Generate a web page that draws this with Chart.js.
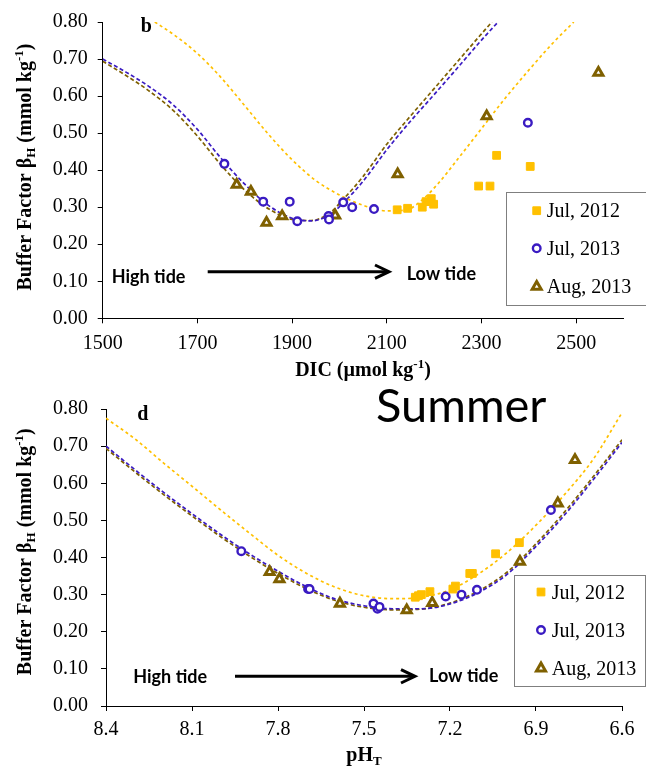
<!DOCTYPE html>
<html>
<head>
<meta charset="utf-8">
<title>Buffer factor vs DIC and pH</title>
<script src="https://cdn.jsdelivr.net/npm/chart.js@4.4.1/dist/chart.umd.min.js"></script>
<style>
  html, body { margin: 0; padding: 0; background: #fff; }
  #wrap { position: relative; width: 646px; height: 768px; }
  #wrap canvas { position: absolute; left: 0; }
  #dicChart { top: 0; }
  #phChart { top: 384px; }
</style>
</head>
<body>
<div id="wrap">
  <canvas id="dicChart" width="646" height="384"></canvas>
  <canvas id="phChart" width="646" height="384"></canvas>
</div>
<script>
// Survey series
const seriesNames = ['Jul, 2012', 'Jul, 2013', 'Aug, 2013'];

const dic2012  = [2122, 2144, 2175, 2183, 2194, 2199, 2294, 2318, 2332, 2403];
const ph2012   = [7.321, 7.310, 7.300, 7.190, 7.181, 7.270, 7.131, 7.122, 6.958, 7.041];
const beta2012 = [0.293, 0.297, 0.300, 0.315, 0.323, 0.308, 0.357, 0.357, 0.440, 0.410];

const dic2013  = [1757, 1839, 1895, 1911, 1977, 1978, 2008, 2027, 2073, 2398];
const ph2013   = [7.928, 7.695, 7.690, 7.453, 7.467, 7.446, 7.106, 7.160, 7.215, 6.848];
const beta2013 = [0.417, 0.315, 0.315, 0.262, 0.276, 0.267, 0.313, 0.300, 0.295, 0.528];

const dicAug2013  = [1783, 1813, 1846, 1879, 1991, 2123, 2311, 2547];
const phAug2013   = [7.829, 7.795, 7.351, 7.584, 7.262, 6.956, 6.824, 6.764];
const betaAug2013 = [0.361, 0.342, 0.258, 0.276, 0.278, 0.389, 0.546, 0.663];

// Modelled buffer factor curves against DIC
const curveDic2012     = [1610, 1650, 1700, 1750, 1800, 1850, 1900, 1950, 2000, 2050, 2100, 2140, 2175, 2210, 2250, 2300, 2350, 2400, 2450, 2495];
const curveBetaDic2012 = [0.800, 0.766, 0.715, 0.650, 0.574, 0.497, 0.428, 0.372, 0.333, 0.305, 0.290, 0.292, 0.320, 0.366, 0.430, 0.512, 0.594, 0.670, 0.742, 0.800];
const curveDic2013     = [1500, 1550, 1600, 1650, 1700, 1750, 1800, 1850, 1900, 1940, 1980, 2010, 2050, 2100, 2150, 2200, 2250, 2300, 2335];
const curveBetaDic2013 = [0.700, 0.664, 0.624, 0.575, 0.510, 0.432, 0.362, 0.305, 0.270, 0.263, 0.280, 0.314, 0.370, 0.455, 0.532, 0.604, 0.677, 0.751, 0.800];
const curveDicAug2013     = [1500, 1550, 1600, 1650, 1700, 1750, 1800, 1850, 1900, 1940, 1980, 2010, 2050, 2100, 2150, 2200, 2250, 2300, 2322];
const curveBetaDicAug2013 = [0.694, 0.655, 0.612, 0.560, 0.492, 0.414, 0.346, 0.296, 0.267, 0.264, 0.285, 0.324, 0.383, 0.470, 0.546, 0.620, 0.694, 0.768, 0.800];

// Modelled buffer factor curves against pH
const curvePh = [8.4, 8.3, 8.2, 8.1, 8.0, 7.9, 7.8, 7.7, 7.6, 7.5, 7.4, 7.3, 7.2, 7.1, 7.0, 6.9, 6.8, 6.7, 6.6];
const curveBetaPh2012    = [0.775, 0.720, 0.655, 0.592, 0.528, 0.466, 0.406, 0.357, 0.320, 0.297, 0.289, 0.293, 0.313, 0.356, 0.414, 0.487, 0.570, 0.665, 0.790];
const curveBetaPh2013    = [0.700, 0.637, 0.576, 0.518, 0.462, 0.410, 0.363, 0.321, 0.288, 0.270, 0.262, 0.262, 0.275, 0.306, 0.355, 0.430, 0.515, 0.610, 0.710];
const curveBetaPhAug2013 = [0.694, 0.631, 0.570, 0.512, 0.456, 0.404, 0.357, 0.316, 0.284, 0.266, 0.259, 0.261, 0.277, 0.310, 0.361, 0.437, 0.523, 0.618, 0.717];

// Axis ticks
const dicTicks  = [1500, 1700, 1900, 2100, 2300, 2500];
const phTicks   = [8.4, 8.1, 7.8, 7.5, 7.2, 6.9, 6.6];
const betaTicks = [0, 0.1, 0.2, 0.3, 0.4, 0.5, 0.6, 0.7, 0.8];

const SERIF = '"Liberation Serif", "Times New Roman", serif';
const SANS = 'Lato, "Open Sans", sans-serif';

Chart.defaults.font.family = SERIF;
Chart.defaults.font.size = 20;
Chart.defaults.color = '#000';

const markerStyles = [
  { pointStyle: 'rect', radius: 5.5, borderWidth: 1, stroke: '#FFC000', fill: '#FFC000', dash: [3, 3], lineColor: '#FFC000' },
  { pointStyle: 'circle', radius: 3.8, borderWidth: 2.4, stroke: '#3A1BC2', fill: '#ffffff', dash: [4, 2.5], lineColor: '#3A1BC2' },
  { pointStyle: 'triangle', radius: 5.2, borderWidth: 3, stroke: '#7F6000', fill: '#ffffff', dash: [4, 2.5], lineColor: '#7F6000' }
];

function toPoints(xs, ys) {
  return xs.map((x, i) => ({ x: x, y: ys[i] }));
}

function pointSet(i, xs, ys) {
  const s = markerStyles[i];
  return {
    label: seriesNames[i],
    data: toPoints(xs, ys),
    showLine: false,
    pointStyle: s.pointStyle,
    pointRadius: s.radius,
    pointHoverRadius: s.radius,
    pointBorderWidth: s.borderWidth,
    pointBorderColor: s.stroke,
    pointBackgroundColor: s.fill,
    order: 0
  };
}

function curveSet(i, xs, ys) {
  const s = markerStyles[i];
  return {
    label: seriesNames[i] + ' model',
    data: toPoints(xs, ys),
    showLine: true,
    pointRadius: 0,
    borderColor: s.lineColor,
    borderWidth: 1.7,
    borderDash: s.dash,
    cubicInterpolationMode: 'monotone',
    order: 1
  };
}

// text with sub/superscripts, centred on x, sitting on baseline y
function drawRuns(ctx, runs, x, y, size) {
  const parts = runs.map(r => {
    const s = (r.sub || r.sup) ? size * 0.65 : size;
    ctx.font = 'bold ' + s + 'px ' + SERIF;
    return { t: r.t, sub: r.sub, sup: r.sup, s: s, w: ctx.measureText(r.t).width };
  });
  const total = parts.reduce((a, p) => a + p.w, 0);
  let cx = x - total / 2;
  ctx.textAlign = 'left';
  ctx.textBaseline = 'alphabetic';
  parts.forEach(p => {
    ctx.font = 'bold ' + p.s + 'px ' + SERIF;
    const dy = p.sub ? size * 0.22 : p.sup ? -size * 0.4 : 0;
    ctx.fillText(p.t, cx, y + dy);
    cx += p.w;
  });
}

const panelExtras = {
  id: 'panelExtras',
  afterDraw(chart, args, o) {
    const ctx = chart.ctx;
    ctx.save();
    ctx.fillStyle = '#000';

    // panel letter
    ctx.font = 'bold 20px ' + SERIF;
    ctx.textAlign = 'left';
    ctx.textBaseline = 'alphabetic';
    ctx.fillText(o.letter.text, o.letter.x, o.letter.y);

    // season caption
    if (o.caption) {
      ctx.font = '47px ' + SANS;
      ctx.fillText(o.caption.text, o.caption.x, o.caption.y);
    }

    // high tide -> low tide arrow
    const t = o.tide;
    ctx.font = 'bold 18px ' + SANS;
    ctx.fillText('High tide', t.high.x, t.high.y);
    ctx.fillText('Low tide', t.low.x, t.low.y);
    ctx.strokeStyle = '#000';
    ctx.lineWidth = 3;
    ctx.beginPath();
    ctx.moveTo(t.x0, t.y);
    ctx.lineTo(t.x1 - 2, t.y);
    ctx.stroke();
    ctx.lineJoin = 'miter';
    ctx.beginPath();
    ctx.moveTo(t.x1 - 14, t.y - 6.7);
    ctx.lineTo(t.x1, t.y);
    ctx.lineTo(t.x1 - 14, t.y + 6.7);
    ctx.stroke();

    // legend box
    const L = o.legend;
    const [bx0, by0, bx1, by1] = L.box;
    ctx.fillStyle = '#fff';
    ctx.fillRect(bx0, by0, bx1 - bx0, by1 - by0);
    ctx.strokeStyle = '#7f7f7f';
    ctx.lineWidth = 1;
    ctx.strokeRect(Math.round(bx0) + 0.5, Math.round(by0) + 0.5, Math.round(bx1 - bx0), Math.round(by1 - by0));
    seriesNames.forEach((name, i) => {
      const s = markerStyles[i];
      ctx.fillStyle = s.fill;
      ctx.strokeStyle = s.stroke;
      ctx.lineWidth = s.borderWidth;
      Chart.helpers.drawPoint(ctx, { pointStyle: s.pointStyle, radius: s.radius, borderWidth: s.borderWidth, rotation: 0 }, L.markerX, L.rows[i]);
      ctx.fillStyle = '#000';
      ctx.font = '20px ' + SERIF;
      ctx.textAlign = 'left';
      ctx.textBaseline = 'alphabetic';
      ctx.fillText(name, L.textX, L.rows[i] + 6.6);
    });

    // axis titles
    ctx.fillStyle = '#000';
    drawRuns(ctx, o.xTitle.runs, o.xTitle.x, o.xTitle.y, 20);
    ctx.translate(o.yTitle.x, o.yTitle.y);
    ctx.rotate(-Math.PI / 2);
    drawRuns(ctx, o.yTitle.runs, 0, 0, 20);
    ctx.restore();
  }
};

const yTitleRuns = [
  { t: 'Buffer Factor \u03B2' }, { t: 'H', sub: true },
  { t: ' (mmol kg' }, { t: '-1', sup: true }, { t: ')' }
];

function axisCommon() {
  return {
    type: 'linear',
    grid: { drawOnChartArea: false, drawTicks: true, tickLength: 5, color: '#000', lineWidth: 1 },
    border: { display: true, color: '#000', width: 1 }
  };
}

function makeChart(id, opts) {
  return new Chart(document.getElementById(id), {
    type: 'scatter',
    data: { datasets: opts.datasets },
    options: {
      responsive: false,
      animation: false,
      events: [],
      layout: { padding: opts.padding },
      plugins: {
        legend: { display: false },
        tooltip: { enabled: false },
        panelExtras: opts.extras
      },
      scales: {
        x: Object.assign(axisCommon(), {
          min: opts.xMin,
          max: opts.xMax,
          reverse: !!opts.xReverse,
          afterBuildTicks: s => { s.ticks = opts.xTicks.map(v => ({ value: v })); },
          afterFit: s => { s.height = opts.xHeight; },
          ticks: { padding: opts.xPad, maxRotation: 0, autoSkip: false, callback: opts.xFormat }
        }),
        y: Object.assign(axisCommon(), {
          min: 0,
          max: 0.8,
          afterBuildTicks: s => { s.ticks = betaTicks.map(v => ({ value: v })); },
          afterFit: s => { s.width = opts.yWidth; },
          ticks: { padding: opts.yPad, callback: v => v.toFixed(2) }
        })
      }
    },
    plugins: [panelExtras]
  });
}

// b: buffer factor against DIC
makeChart('dicChart', {
  datasets: [
    pointSet(0, dic2012, beta2012),
    pointSet(1, dic2013, beta2013),
    pointSet(2, dicAug2013, betaAug2013),
    curveSet(0, curveDic2012, curveBetaDic2012),
    curveSet(1, curveDic2013, curveBetaDic2013),
    curveSet(2, curveDicAug2013, curveBetaDicAug2013)
  ],
  padding: { left: 0, top: 15.7, right: 22.5, bottom: 0 },
  xMin: 1500, xMax: 2600, xTicks: dicTicks, xHeight: 65.7, xPad: 8,
  xFormat: v => String(v),
  yWidth: 102.7, yPad: 10,
  extras: {
    letter: { text: 'b', x: 140.7, y: 31.7 },
    tide: { y: 271.7, x0: 207.7, x1: 389, high: { x: 111.7, y: 282.7 }, low: { x: 406.7, y: 280 } },
    legend: { box: [506, 191.7, 646, 305], markerX: 536.7, textX: 546.7, rows: [210.7, 248.3, 286.7] },
    xTitle: { runs: [{ t: 'DIC (\u00B5mol kg' }, { t: '-1', sup: true }, { t: ')' }], x: 363, y: 375.5 },
    yTitle: { runs: yTitleRuns, x: 30.5, y: 167 }
  }
});

// d: buffer factor against pH (total scale)
makeChart('phChart', {
  datasets: [
    pointSet(0, ph2012, beta2012),
    pointSet(1, ph2013, beta2013),
    pointSet(2, phAug2013, betaAug2013),
    curveSet(0, curvePh, curveBetaPh2012),
    curveSet(1, curvePh, curveBetaPh2013),
    curveSet(2, curvePh, curveBetaPhAug2013)
  ],
  padding: { left: 0, top: 13.3, right: 24, bottom: 0 },
  xMin: 6.6, xMax: 8.4, xReverse: true, xTicks: phTicks, xHeight: 62, xPad: 7,
  xFormat: v => v.toFixed(1),
  yWidth: 106, yPad: 13,
  extras: {
    letter: { text: 'd', x: 137.3, y: 36 },
    caption: { text: 'Summer', x: 376, y: 38 },
    tide: { y: 292.3, x0: 235, x1: 415, high: { x: 133.3, y: 299.3 }, low: { x: 429, y: 297.7 } },
    legend: { box: [514.3, 190.7, 645, 302], markerX: 541, textX: 551.7, rows: [208, 246, 284.3] },
    xTitle: { runs: [{ t: 'pH' }, { t: 'T', sub: true }], x: 364, y: 377 },
    yTitle: { runs: yTitleRuns, x: 30.5, y: 167.7 }
  }
});
</script>
</body>
</html>
